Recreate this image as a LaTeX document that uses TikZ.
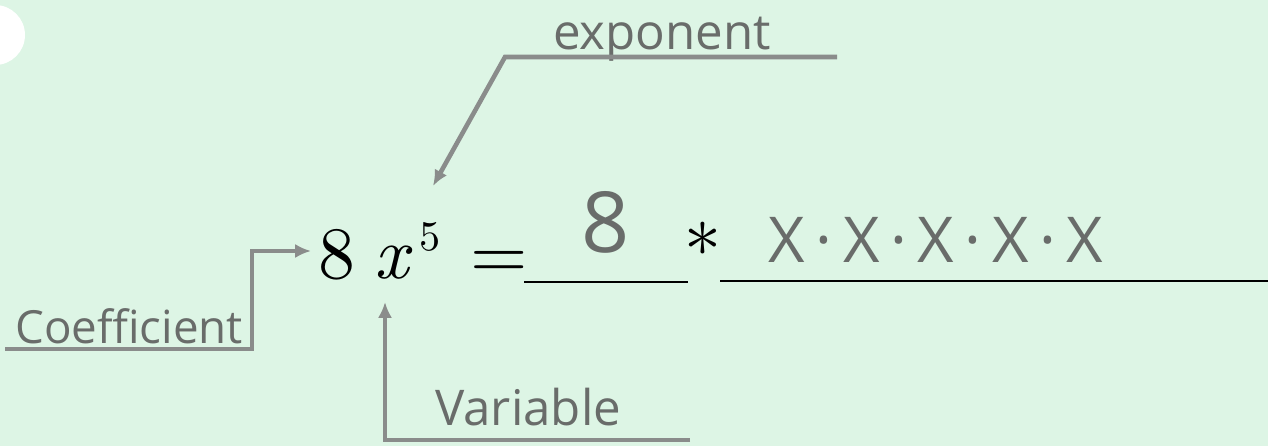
\documentclass[tikz,border=0pt]{standalone}
\usepackage{fontspec}
\usepackage{xcolor}
\usetikzlibrary{calc, positioning, arrows.meta}
\newfontfamily\hand{Open Sans}
\newfontfamily\printed{lmroman10-regular.otf}[ItalicFont=lmroman10-italic.otf]
\definecolor{paper}{RGB}{221,245,229}
\definecolor{pencil}{RGB}{105,108,106}
\definecolor{marker}{RGB}{138,140,139}

\begin{document}
\begin{tikzpicture}[>={Latex[length=9pt, width=8pt]}, x=0.02cm, y=-0.02cm,
    hw/.style={font=\hand\fontsize{26}{30}\selectfont, text=pencil, inner sep=0pt},
    big/.style={font=\printed\fontsize{42}{48}\selectfont, inner sep=0pt, anchor=base west},
    pointer/.style={draw=marker, line width=2.6pt, ->},
    blank/.style={draw=black, line width=1.7pt}]
    % Giấy nền
    \fill[paper] (0,0) rectangle (1268,446);
    \useasboundingbox (0,0) rectangle (1268,446);
    \fill[white] (-5,35) circle[radius=30];

    % Biểu thức in sẵn
    \node[big] (n8) at (318,278) {8};
    \node[big] (nx) at (374,278) {\itshape x};
    \node[big, font=\printed\fontsize{24}{28}\selectfont] (n5) at (419,250) {5};
    \node[big] (neq) at (470,278) {=};
    \node[big, anchor=center] (star) at (703,250) {*};

    % Chỗ trống
    \coordinate (b1s) at (524,282);
    \coordinate (b1e) at (688,282);
    \coordinate (b2s) at (720,281);
    \coordinate (b2e) at (1268,281);
    \draw[blank] (b1s) -- (b1e);
    \draw[blank] (b2s) -- (b2e);

    % Chữ viết tay
    \node[hw, font=\hand\fontsize{48}{52}\selectfont] (hw8) at (606,222) {8};
    \node[hw, font=\hand\fontsize{36}{40}\selectfont] (hwx) at (936,240)
        {X\,·\,X\,·\,X\,·\,X\,·\,X};
    \node[hw, font=\hand\fontsize{28}{32}\selectfont, anchor=base] (expo) at (662,50) {exponent};
    \node[hw, anchor=base west] (coef) at (15,343) {Coefficient};
    \node[hw, font=\hand\fontsize{28}{32}\selectfont, anchor=base west] (vari) at (435,425) {Variable};

    % Mũi tên chỉ dẫn
    \coordinate (e0) at (837,57);
    \coordinate (e1) at (505,57);
    \coordinate (etip) at (433,186);
    \draw[pointer] (e0) -- (e1) -- (etip);

    \coordinate (c0) at (5,349);
    \coordinate (c1) at (252,349);
    \coordinate (ctip) at (311,251);
    \draw[pointer] (c0) -- (c1) |- (ctip);

    \coordinate (v0) at (690,440);
    \coordinate (v1) at (385,440);
    \coordinate (vtip) at (385,302);
    \draw[pointer] (v0) -- (v1) -- (vtip);
\end{tikzpicture}
\end{document}
